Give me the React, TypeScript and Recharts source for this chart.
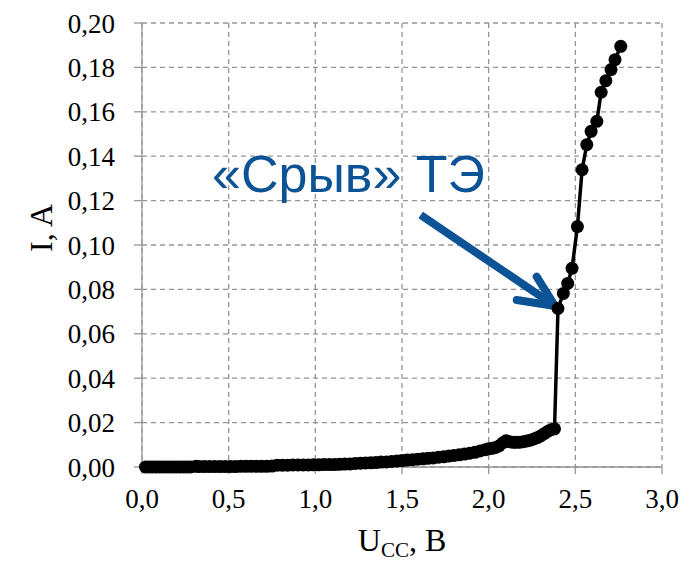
import React from 'react';
import { LineChart, Line, XAxis, YAxis, CartesianGrid, ReferenceLine, ReferenceDot } from 'recharts';

const lowU = [0.02,0.04,0.06,0.08,0.10,0.12,0.14,0.16,0.18,0.20,0.22,0.24,0.26,0.28,0.31,0.33,0.36,0.39,0.42,0.45,0.48,0.51,0.54,0.57,0.60,0.63,0.66,0.69,0.72,0.75,0.78,0.81,0.84,0.87,0.90,0.93,0.96,0.99,1.02,1.05,1.08,1.11,1.14,1.17,1.20,1.23,1.26,1.29,1.32,1.35,1.38,1.41,1.44,1.47,1.50,1.53,1.56,1.59,1.62,1.65,1.68,1.71,1.74,1.77,1.80,1.83,1.86,1.89,1.92,1.95,1.98,2.00,2.02,2.04,2.06,2.08,2.10,2.12,2.14,2.16,2.18,2.20,2.22,2.24,2.26,2.28,2.30,2.32,2.34,2.36,2.38];
const lowI = [0,0,0,0,0,0,0,0,0,0,0,0,0,0,0.0003,0.0002,0.0002,0.0002,0.0002,0.0002,0.0002,0.0002,0.0002,0.0003,0.0003,0.0003,0.0003,0.0003,0.0003,0.0004,0.0008,0.0008,0.0008,0.0009,0.0009,0.0009,0.0009,0.0010,0.0010,0.0011,0.0011,0.0011,0.0012,0.0013,0.0014,0.0016,0.0017,0.0018,0.0019,0.0020,0.0022,0.0023,0.0025,0.0027,0.0029,0.0031,0.0033,0.0035,0.0037,0.0039,0.0041,0.0044,0.0046,0.0049,0.0052,0.0055,0.0058,0.0062,0.0066,0.0072,0.0078,0.0082,0.0084,0.0088,0.0095,0.0108,0.0118,0.0114,0.0111,0.0111,0.0112,0.0114,0.0117,0.0121,0.0126,0.0132,0.0140,0.0150,0.0160,0.0168,0.0172];
const highU = [2.40,2.431,2.456,2.481,2.512,2.539,2.566,2.591,2.624,2.649,2.676,2.706,2.729,2.762];
const highI = [0.0714,0.0782,0.0827,0.0895,0.1083,0.1339,0.1452,0.1512,0.1557,0.1688,0.1740,0.1790,0.1835,0.1895];

const xTicks = [0, 0.5, 1.0, 1.5, 2.0, 2.5, 3.0];
const yTicks = [0, 0.02, 0.04, 0.06, 0.08, 0.10, 0.12, 0.14, 0.16, 0.18, 0.20];

const annotationText = '«Срыв» ТЭ';
const annotationAt = { x: 0.404, y: 0.1239 };
const arrowShaft = [{ x: 1.608, y: 0.1135 }, { x: 2.383, y: 0.0725 }];
const arrowWing1 = [{ x: 2.383, y: 0.0725 }, { x: 2.277, y: 0.0857 }];
const arrowWing2 = [{ x: 2.383, y: 0.0725 }, { x: 2.162, y: 0.0752 }];

const data = [...lowU.map((u, i) => ({ u, i: lowI[i] })), ...highU.map((u, i) => ({ u, i: highI[i] }))];

const serif = '"Liberation Serif", "Times New Roman", serif';
const blue = '#0b5394';
const gray = '#959595';

const fmtX = (v: number) => v.toFixed(1).replace('.', ',');
const fmtY = (v: number) => v.toFixed(2).replace('.', ',');

export default function App() {
  return (
    <div style={{ position: 'absolute', left: 0, top: 0, width: 687, height: 569, background: '#fff' }}>
      <LineChart width={687} height={569} data={data} margin={{ top: 23, right: 25, bottom: 0, left: 0 }}>
        <CartesianGrid stroke={gray} strokeDasharray="5 4" strokeWidth={1.3} />
        <XAxis
          type="number"
          dataKey="u"
          domain={[0, 3]}
          ticks={xTicks}
          tickFormatter={fmtX}
          height={102}
          stroke={gray}
          strokeWidth={1.3}
          tickSize={7}
          tickMargin={15}
          tick={{ fill: '#000', fontFamily: serif, fontSize: 27 }}
          label={{
            content: (p: any) => {
              const vb = p.viewBox;
              const cx = vb.x + vb.width / 2;
              return (
                <text x={cx} y={vb.y + 84} textAnchor="middle" fontFamily={serif} fontSize={32} fill="#000">
                  U<tspan fontSize={21} dy={6}>CC</tspan><tspan dy={-6}>, B</tspan>
                </text>
              );
            },
          }}
        />
        <YAxis
          type="number"
          domain={[0, 0.2]}
          ticks={yTicks}
          tickFormatter={fmtY}
          width={142}
          stroke={gray}
          strokeWidth={1.3}
          tickSize={8}
          tickMargin={19}
          tick={{ fill: '#000', fontFamily: serif, fontSize: 27 }}
          label={{
            content: (p: any) => {
              const vb = p.viewBox;
              const cx = vb.x + 41;
              const cy = vb.y + vb.height / 2 - 17;
              return (
                <text x={cx} y={cy} textAnchor="middle" dominantBaseline="central" fontFamily={serif} fontSize={32} fill="#000" transform={`rotate(-90 ${cx} ${cy})`}>
                  I, A
                </text>
              );
            },
          }}
        />
        <Line
          dataKey="i"
          stroke="#000"
          strokeWidth={3.5}
          isAnimationActive={false}
          dot={{ r: 6.5, fill: '#000', stroke: '#000', strokeWidth: 0 }}
        />
        <ReferenceLine segment={arrowShaft} stroke={blue} strokeWidth={8} ifOverflow="visible" strokeLinecap="butt" />
        <ReferenceLine segment={arrowWing1} stroke={blue} strokeWidth={8} ifOverflow="visible" strokeLinecap="round" />
        <ReferenceLine segment={arrowWing2} stroke={blue} strokeWidth={8} ifOverflow="visible" strokeLinecap="round" />
        <ReferenceDot
          x={annotationAt.x}
          y={annotationAt.y}
          r={0}
          fill="none"
          stroke="none"
          ifOverflow="visible"
          label={{
            content: (p: any) => {
              const vb = p.viewBox;
              return (
                <text x={vb.x} y={vb.y} textAnchor="start" fontFamily='"Liberation Sans", Arial, sans-serif' fontSize={52} fill={blue}>
                  {annotationText}
                </text>
              );
            },
          }}
        />
      </LineChart>
    </div>
  );
}
